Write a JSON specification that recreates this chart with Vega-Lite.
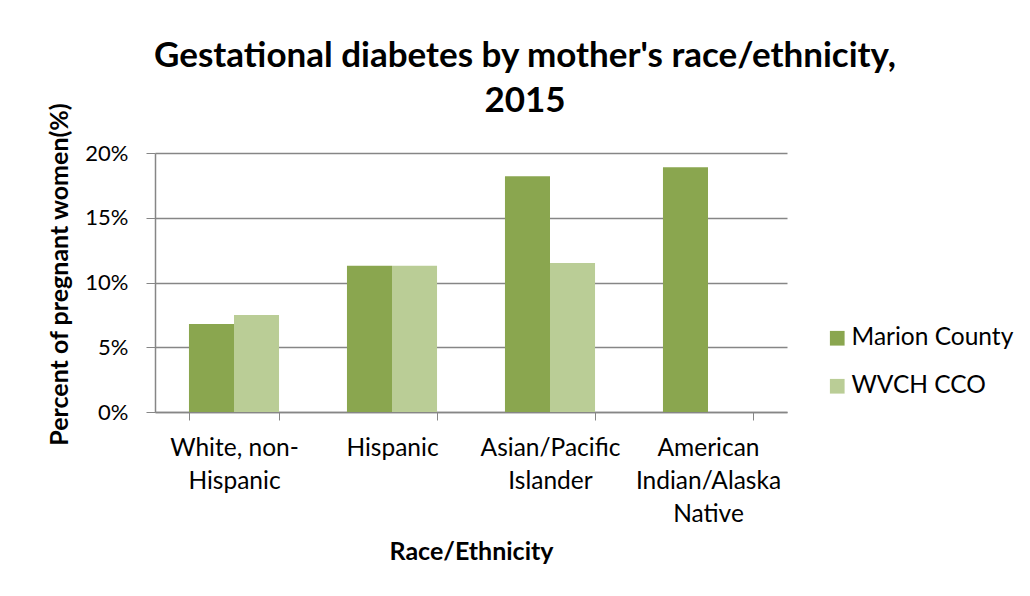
{
  "$schema": "https://vega.github.io/schema/vega-lite/v6.json",
  "autosize": "none",
  "width": 632,
  "height": 259,
  "padding": {"left": 155, "top": 153, "right": 243, "bottom": 184},
  "background": "white",
  "title": {
    "text": ["Gestational diabetes by mother's race/ethnicity,", "2015"],
    "font": "Lato",
    "fontSize": 35,
    "fontWeight": "bold",
    "color": "#000000",
    "anchor": "middle",
    "frame": "group",
    "dx": 54,
    "dy": 27,
    "lineHeight": 45,
    "offset": 10
  },
  "data": {
    "values": [
      {"race": "White, non-Hispanic", "series": "Marion County", "pct": 0.068},
      {"race": "White, non-Hispanic", "series": "WVCH CCO", "pct": 0.075},
      {"race": "Hispanic", "series": "Marion County", "pct": 0.113},
      {"race": "Hispanic", "series": "WVCH CCO", "pct": 0.113},
      {"race": "Asian/Pacific Islander", "series": "Marion County", "pct": 0.182},
      {"race": "Asian/Pacific Islander", "series": "WVCH CCO", "pct": 0.115},
      {"race": "American Indian/Alaska Native", "series": "Marion County", "pct": 0.189}
    ]
  },
  "mark": {"type": "bar"},
  "encoding": {
    "x": {
      "field": "race",
      "type": "nominal",
      "sort": ["White, non-Hispanic", "Hispanic", "Asian/Pacific Islander", "American Indian/Alaska Native"],
      "scale": {"paddingInner": 0.43, "paddingOuter": 0.215},
      "axis": {
        "title": "Race/Ethnicity",
        "titleFont": "Lato",
        "titleFontSize": 25,
        "titleFontWeight": "bold",
        "titleColor": "#000000",
        "titleX": 316,
        "titleY": 147,
        "titleBaseline": "alphabetic",
        "labelAngle": 0,
        "labelFont": "Lato",
        "labelFontSize": 24.5,
        "labelColor": "#000000",
        "labelBaseline": "alphabetic",
        "labelLineHeight": 33,
        "labelPadding": 35,
        "labelExpr": "datum.value == 'White, non-Hispanic' ? ['White, non-', 'Hispanic'] : datum.value == 'Asian/Pacific Islander' ? ['Asian/Pacific', 'Islander'] : datum.value == 'American Indian/Alaska Native' ? ['American', 'Indian/Alaska', 'Native'] : datum.value",
        "tickBand": "extent",
        "tickSize": 8,
        "tickColor": "#868686",
        "domainColor": "#868686",
        "domainWidth": 1.5,
        "grid": false
      }
    },
    "xOffset": {
      "field": "series",
      "type": "nominal",
      "sort": ["Marion County", "WVCH CCO"],
      "scale": {"paddingInner": 0, "paddingOuter": 0}
    },
    "y": {
      "field": "pct",
      "type": "quantitative",
      "scale": {"domain": [0, 0.2], "nice": false},
      "axis": {
        "title": "Percent of pregnant women(%)",
        "titleFont": "Lato",
        "titleFontSize": 25,
        "titleFontWeight": "bold",
        "titleColor": "#000000",
        "titleAngle": -90,
        "titleX": -88,
        "titleY": 121,
        "titleAlign": "center",
        "titleBaseline": "alphabetic",
        "values": [0, 0.05, 0.1, 0.15, 0.2],
        "format": ".0%",
        "labelFont": "Lato",
        "labelFontSize": 22,
        "labelColor": "#000000",
        "labelPadding": 18,
        "tickSize": 9,
        "tickColor": "#868686",
        "domainColor": "#868686",
        "domainWidth": 1.5,
        "grid": true,
        "gridColor": "#868686",
        "gridWidth": 1.3
      }
    },
    "color": {
      "field": "series",
      "type": "nominal",
      "scale": {"domain": ["Marion County", "WVCH CCO"], "range": ["#8aa64f", "#bacd96"]},
      "legend": {
        "title": null,
        "orient": "none",
        "legendX": 670,
        "legendY": 173,
        "symbolType": "square",
        "symbolSize": 216,
        "symbolStrokeWidth": 0,
        "labelFont": "Lato",
        "labelFontSize": 24.5,
        "labelColor": "#000000",
        "labelOffset": 2,
        "labelLimit": 400,
        "rowPadding": 23
      }
    }
  },
  "config": {
    "view": {"stroke": null}
  }
}
